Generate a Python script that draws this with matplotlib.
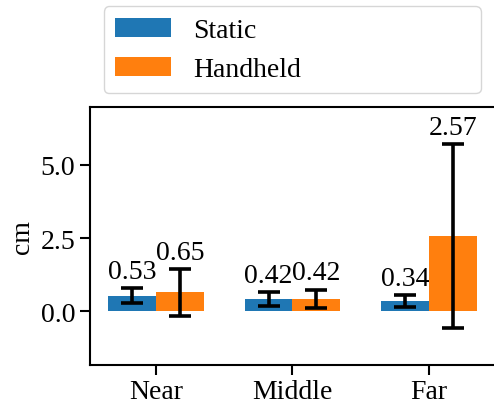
import numpy as np
from matplotlib import pyplot as plt

plt.rcParams["font.family"] = ["Liberation Serif", "DejaVu Serif"]
plt.rcParams["font.size"] = 20

distances = ["Near", "Middle", "Far"]
static_mean = [0.53, 0.42, 0.34]
static_std = [0.26, 0.25, 0.20]
handheld_mean = [0.65, 0.42, 2.57]
handheld_std = [0.80, 0.32, 3.13]

width = 0.35
x = np.arange(len(distances))

fig = plt.figure(figsize=(4.94, 4.06), dpi=100)
# right part of the axes runs off the canvas, like in the reference
ax = fig.add_axes([0.1822, 0.0993, 0.85, 0.634])

err_kw = dict(ecolor="black", elinewidth=2.6, capsize=8, capthick=2.6)
b1 = ax.bar(x - width / 2, static_mean, width, yerr=static_std, color="#1f77b4", label="Static", error_kw=err_kw)
b2 = ax.bar(x + width / 2, handheld_mean, width, yerr=handheld_std, color="#ff7f0e", label="Handheld", error_kw=err_kw)
ax.bar_label(b1, fmt="%.2f", padding=3)
ax.bar_label(b2, fmt="%.2f", padding=3)

ax.set_xticks(x)
ax.set_xticklabels(distances)
ax.set_yticks([0.0, 2.5, 5.0])
ax.set_yticklabels(["0.0", "2.5", "5.0"])
ax.set_ylim(-1.82, 6.96)
ax.set_xlim(-0.483, 2.594)
ax.set_ylabel("cm")
ax.tick_params(length=7, width=1.5)
for s in ax.spines.values():
    s.set_linewidth(1.5)

# legend spans the visible part of the axes only
leg_w = 2.966 / 3.077
ax.legend(loc="lower left", bbox_to_anchor=(0, 1, leg_w, 0.2), mode="expand", handlelength=2.0)

fig.savefig("out.png", dpi=100)
